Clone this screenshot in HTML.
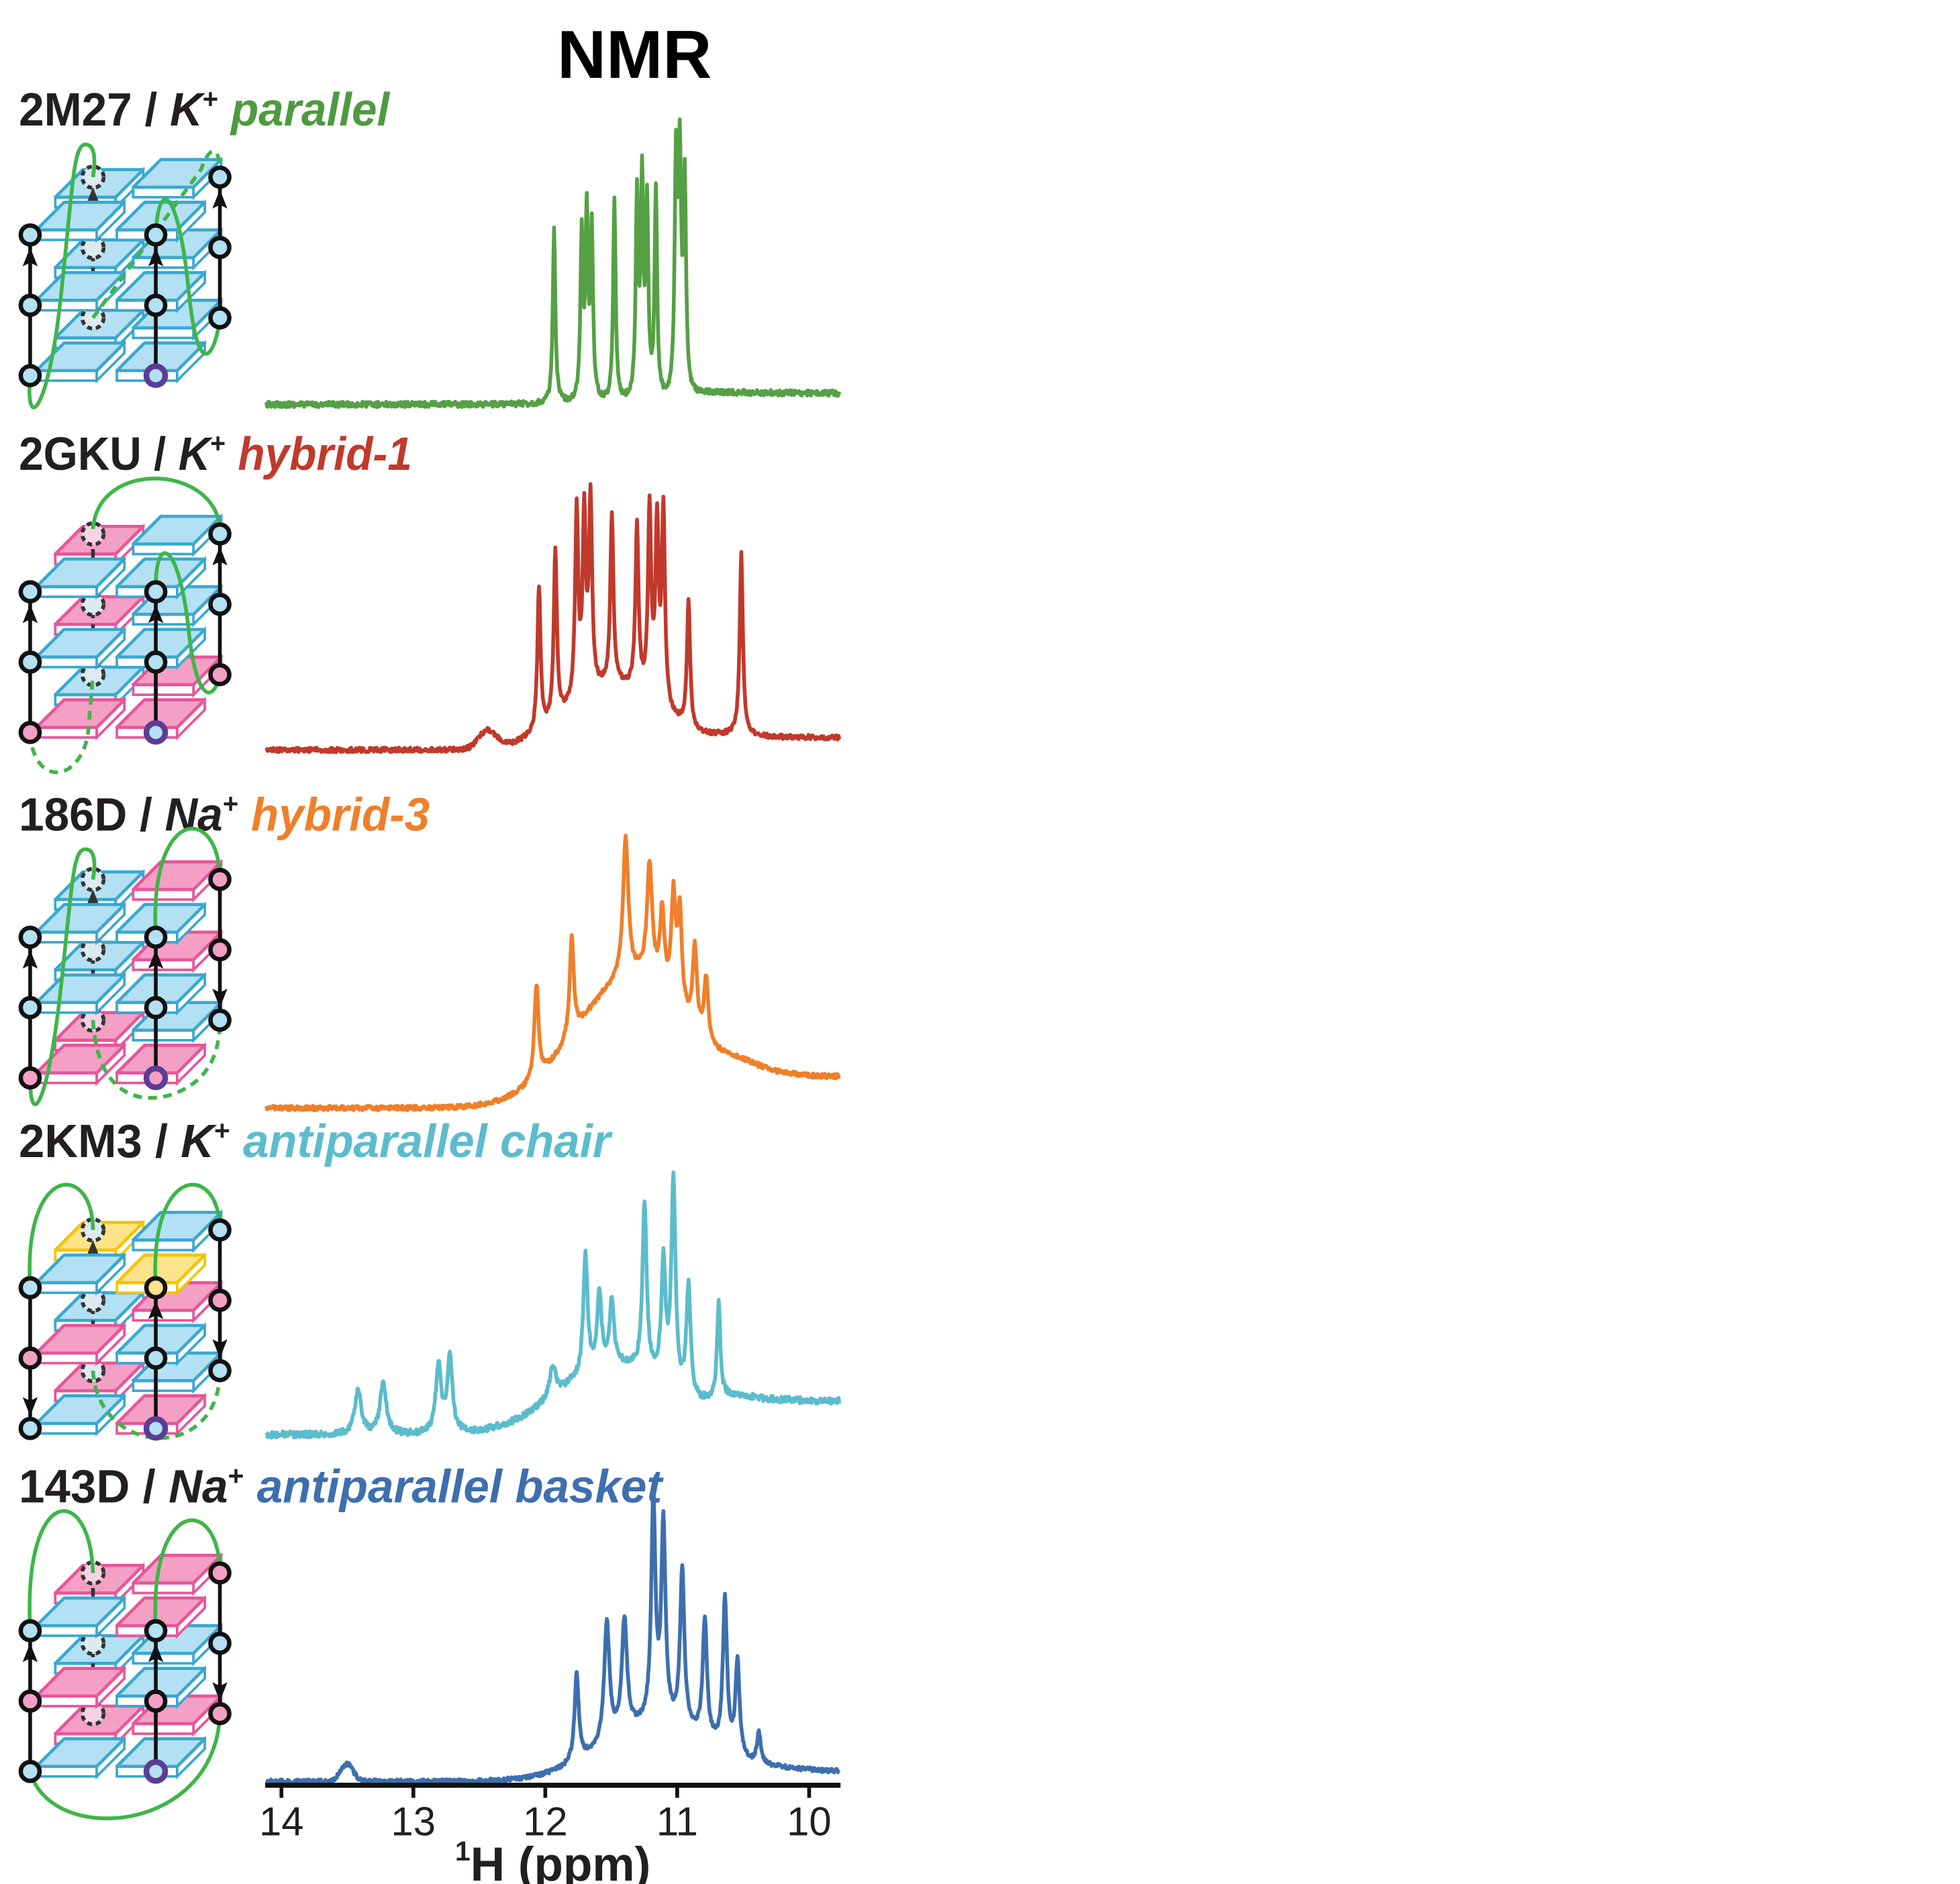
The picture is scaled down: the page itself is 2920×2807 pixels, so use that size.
<!DOCTYPE html>
<html><head><meta charset="utf-8">
<style>html,body{margin:0;padding:0;background:#fff}svg{display:block}</style>
</head><body>
<svg id="s" xmlns="http://www.w3.org/2000/svg" width="2920" height="2807" viewBox="0 0 1560 1499.6" preserveAspectRatio="none" font-family="'Liberation Sans', sans-serif">
<rect width="1560" height="1500" fill="#fff"/>
<text x="505" y="62" font-size="54" font-weight="bold" text-anchor="middle" fill="#000">NMR</text>
<g font-weight="bold" font-size="37" fill="#231f20">
<text x="15" y="100" textLength="295" lengthAdjust="spacingAndGlyphs">2M27 / <tspan font-style="italic">K</tspan><tspan font-size="22" dy="-14">+</tspan><tspan dy="14" font-style="italic" fill="#4f9a3f"> parallel</tspan></text>
<text x="15" y="374" textLength="313" lengthAdjust="spacingAndGlyphs">2GKU / <tspan font-style="italic">K</tspan><tspan font-size="22" dy="-14">+</tspan><tspan dy="14" font-style="italic" fill="#c1392b"> hybrid-1</tspan></text>
<text x="15" y="661" textLength="327" lengthAdjust="spacingAndGlyphs">186D / <tspan font-style="italic">Na</tspan><tspan font-size="22" dy="-14">+</tspan><tspan dy="14" font-style="italic" fill="#ef7f2a"> hybrid-3</tspan></text>
<text x="15" y="921" textLength="471" lengthAdjust="spacingAndGlyphs">2KM3 / <tspan font-style="italic">K</tspan><tspan font-size="22" dy="-14">+</tspan><tspan dy="14" font-style="italic" fill="#5bbccc"> antiparallel chair</tspan></text>
<text x="15" y="1196" textLength="512" lengthAdjust="spacingAndGlyphs">143D / <tspan font-style="italic">Na</tspan><tspan font-size="22" dy="-14">+</tspan><tspan dy="14" font-style="italic" fill="#3d6fae"> antiparallel basket</tspan></text>
</g>
<g id="diag"></g>
<g id="spec"></g>
<line x1="211" y1="1421" x2="669" y2="1421" stroke="#111" stroke-width="4"/>
<g stroke="#111" stroke-width="3">
<line x1="224" y1="1421" x2="224" y2="1431"/><line x1="329" y1="1421" x2="329" y2="1431"/><line x1="434" y1="1421" x2="434" y2="1431"/><line x1="539" y1="1421" x2="539" y2="1431"/><line x1="644" y1="1421" x2="644" y2="1431"/>
</g>
<g font-size="32" text-anchor="middle" fill="#231f20">
<text x="224" y="1461">14</text><text x="329" y="1461">13</text><text x="434" y="1461">12</text><text x="539" y="1461">11</text><text x="644" y="1461">10</text>
</g>
<text x="440" y="1497" font-size="38" font-weight="bold" text-anchor="middle" fill="#231f20"><tspan font-size="22" dy="-16">1</tspan><tspan dy="16">H (ppm)</tspan></text>
</svg>
<script>
(function(){
var NS="http://www.w3.org/2000/svg";
function el(p,t,a){var e=document.createElementNS(NS,t);for(var k in a)e.setAttribute(k,a[k]);p.appendChild(e);return e;}
var seed=12345;function rnd(){seed=(seed*16807)%2147483647;return seed/2147483647;}
var spec=document.getElementById('spec');
var S=[
 {c:'#55a044',bl:322,br:313,xs:548,hump:[],nz:2.2,pk:[[441,138,1.2],[463,130,1.2],[467,145,1.2],[471,135,1.2],[489,160,1.2],[507,160,1.2],[511,170,1.2],[515,150,1.2],[522,165,1.2],[538,175,1.2],[541,185,1.4],[545,165,1.2]]},
 {c:'#c1392b',bl:597,br:587,xs:565,hump:[[490,50,38],[388,14,7]],nz:1.8,pk:[[429,115,1.5],[442,135,1.5],[459,150,1.5],[465,140,1.5],[470,150,1.5],[487,135,1.5],[507,130,1.5],[517,150,1.5],[523,140,1.5],[528,155,1.5],[548,100,1.5],[590,145,1.5]]},
 {c:'#ef7f2a',bl:882,br:857,xs:575,hump:[[505,105,45]],nz:1.8,pk:[[427,75,2],[455,80,2],[498,110,2.5],[517,90,2.5],[527,60,2],[536,80,2],[541,75,2],[553,65,2],[562,50,2]]},
 {c:'#5bbccc',bl:1142,br:1115,xs:565,hump:[[490,55,45]],nz:2.5,pk:[[285,35,3],[305,40,3],[349,55,2.5],[358,60,2.5],[440,25,3],[466,95,2],[477,60,2],[487,50,2],[513,135,2],[528,95,2],[536,165,2],[548,90,2],[572,75,1.5]]},
 {c:'#3d6fae',bl:1418,br:1410,xs:610,hump:[[525,45,45],[276,14,5]],nz:1.6,pk:[[459,70,2],[483,95,2.5],[497,90,2.5],[520,175,2],[528,155,2],[543,125,2],[561,95,2],[577,120,2],[587,75,2],[604,25,2]]}
];
S.forEach(function(s){
 var d='';
 for(var x=212;x<=668;x+=0.5){
  var b=s.bl+(s.br-s.bl)/(1+Math.exp(-(x-s.xs)/8));
  var y=b;
  s.hump.forEach(function(h){y-=h[1]*Math.exp(-Math.pow((x-h[0])/h[2],2)/2);});
  s.pk.forEach(function(p){var t=(x-p[0])/p[2];y-=p[1]/(1+t*t);});
  y+=(rnd()-0.5)*2*s.nz;
  d+=(d?'L':'M')+x.toFixed(1)+','+y.toFixed(1);
 }
 el(spec,'path',{d:d,fill:'none',stroke:s.c,'stroke-width':3,'stroke-linejoin':'round'});
});
var g=document.getElementById('diag');
var COL={b:['#b3e0f2','#3aa8d0'],p:['#f4a0c4','#e8559a'],y:['#fde38a','#f5c400']};
function plate(x,y,c){var f=COL[c];
 el(g,'polygon',{points:[x,y,x+48,y,x+48,y+8,x,y+8].join(','),fill:'#fff',stroke:f[1],'stroke-width':2});
 el(g,'polygon',{points:[x+48,y,x+70,y-22,x+70,y-14,x+48,y+8].join(','),fill:'#fff',stroke:f[1],'stroke-width':2});
 el(g,'polygon',{points:[x,y,x+48,y,x+70,y-22,x+22,y-22].join(','),fill:f[0],stroke:f[1],'stroke-width':2.5,'stroke-linejoin':'round'});
}
var CF={b:'#b3e0f2',p:'#f4a0c4',y:'#fde38a'};
function circ(x,y,c,purple){el(g,'circle',{cx:x,cy:y,r:7.5,fill:CF[c],stroke:purple?'#5b3c96':'#111','stroke-width':purple?4.5:3.5});}
function dcirc(x,y,c){el(g,'circle',{cx:x,cy:y,r:8.5,fill:c=='p'?'#f6d3e3':'#dcebf2',stroke:'#333','stroke-width':3,'stroke-dasharray':'4,3'});}
function arrowCol(x,y1,y2,dir,dashed){
 el(g,'line',{x1:x,y1:y1,x2:x,y2:y2,stroke:dashed?'#333':'#111','stroke-width':3,'stroke-dasharray':dashed?'7,5':'none'});
}
function head(x,y,dir,dashed){var c=dashed?'#333':'#111';
 if(dir<0)el(g,'polygon',{points:[x,y-10,x-6,y+5,x,y+2,x+6,y+5].join(','),fill:c});
 else el(g,'polygon',{points:[x,y+10,x-6,y-5,x,y-2,x+6,y-5].join(','),fill:c});}
function loop(d,dashed){el(g,'path',{d:d,fill:'none',stroke:'#3fb54a','stroke-width':3,'stroke-dasharray':dashed?'7,5':'none'});}
var R=[
 {B:299,lv:[['b','b','b','b'],['b','b','b','b'],['b','b','b','b']],L:['b','b','b'],M:['b','b','b'],Rc:['b','b','b'],D:['b','b','b'],dir:[-1,-1,-1,-1],
  loops:[['M24,299 C20,345 38,330 48,240 C58,150 58,115 68,115 C76,115 76,128 74,141',0],['M124,187 C126,140 142,150 150,230 C158,310 172,280 175,253',0],['M74,253 L160,135 C168,112 176,118 175,141',1]]},
 {B:583,lv:[['b','b','p','b'],['b','b','p','b'],['p','p','b','p']],L:['b','b','p'],M:['b','b','b'],Rc:['b','b','p'],D:['p','b','b'],dir:[-1,-1,-1,1],
  loops:[['M74,421 C78,365 172,370 175,421',0],['M124,467 C124,425 142,430 150,500 C156,560 170,560 175,537',0],['M24,583 C26,625 62,625 70,585 L74,537',1]]},
 {B:858,lv:[['b','b','b','p'],['b','b','b','p'],['p','p','p','b']],L:['b','b','p'],M:['b','b','p'],Rc:['p','p','b'],D:['b','b','p'],dir:[-1,-1,1,-1],
  loops:[['M24,858 C24,900 38,880 48,790 C58,700 58,676 68,676 C76,676 76,688 74,700',0],['M124,746 C118,640 175,640 175,700',0],['M74,812 C78,880 120,878 140,870 C165,860 175,840 175,812',1]]},
 {B:1137,lv:[['b','y','y','b'],['p','b','b','p'],['b','p','p','b']],L:['b','p','b'],M:['y','b','b'],Rc:['b','p','b'],D:['b','b','b'],dir:[1,-1,1,-1],
  loops:[['M24,1025 C18,925 74,925 74,979',0],['M124,1025 C118,925 175,925 175,979',0],['M74,1091 C78,1160 175,1165 175,1091',1]]},
 {B:1410,lv:[['b','p','p','p'],['p','b','b','b'],['b','b','p','p']],L:['b','p','b'],M:['b','p','b'],Rc:['p','b','p'],D:['p','b','p'],dir:[-1,-1,1,1],
  loops:[['M24,1298 C18,1180 72,1180 74,1252',0],['M124,1298 C118,1190 175,1190 175,1252',0],['M24,1410 C40,1470 172,1460 175,1364',0]]}
];
R.forEach(function(r){
 var B=r.B,st=56;
 for(var k=0;k<3;k++){var Y=B-(2-k)*st;var c=r.lv[k];
  plate(44,Y-30,c[2]);plate(106,Y-38,c[3]);
 }
 arrowCol(74,B-158,B-46,0,1);
 for(var k=0;k<3;k++)dcirc(74,B-158+k*st,r.D[k]);
 head(74,r.dir[3]<0?B-140:B-64,r.dir[3],1);
 for(var k=0;k<3;k++){var Y=B-(2-k)*st;var c=r.lv[k];
  plate(29,Y-4,c[0]);plate(93,Y-4,c[1]);
 }
 r.loops.forEach(function(l){loop(l[0],l[1]);});
 arrowCol(24,B-112,B,0,0);arrowCol(124,B-112,B,0,0);arrowCol(175,B-158,B-46,0,0);
 head(24,r.dir[0]<0?B-92:B-20,r.dir[0]);
 head(124,B-92,-1);
 head(175,r.dir[2]<0?B-138:B-66,r.dir[2]);
 for(var k=0;k<3;k++){circ(24,B-112+k*st,r.L[k]);circ(124,B-112+k*st,r.M[k],k==2);circ(175,B-158+k*st,r.Rc[k]);}
});
})();
</script>
</body></html>
